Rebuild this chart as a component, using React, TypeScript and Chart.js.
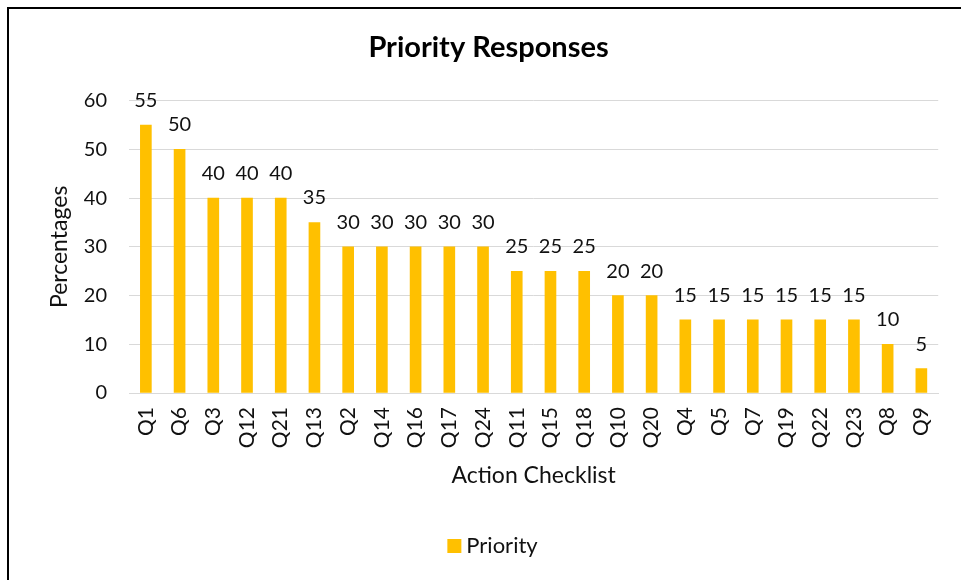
import React, { useEffect, useRef } from "react";
import { Chart, registerables } from "chart.js";

Chart.register(...registerables);

const categories = ["Q1", "Q6", "Q3", "Q12", "Q21", "Q13", "Q2", "Q14", "Q16", "Q17", "Q24", "Q11", "Q15", "Q18", "Q10", "Q20", "Q4", "Q5", "Q7", "Q19", "Q22", "Q23", "Q8", "Q9"];
const priorityValues = [55, 50, 40, 40, 40, 35, 30, 30, 30, 30, 30, 25, 25, 25, 20, 20, 15, 15, 15, 15, 15, 15, 10, 5];
const seriesName = "Priority";
const chartTitle = "Priority Responses";
const yTitle = "Percentages";
const xTitle = "Action Checklist";
const yMin = 0;
const yMax = 60;
const yStep = 10;

const FONT = "Lato, 'Open Sans', sans-serif";
const BAR_COLOR = "#FFC000";
const TEXT_COLOR = "#111111";

const dataLabelPlugin = {
  id: "dataLabels",
  afterDatasetsDraw(chart: any) {
    const ctx = chart.ctx;
    ctx.save();
    ctx.font = `20px ${FONT}`;
    ctx.fillStyle = TEXT_COLOR;
    ctx.textAlign = "center";
    ctx.textBaseline = "alphabetic";
    chart.data.datasets.forEach((ds: any, di: number) => {
      const meta = chart.getDatasetMeta(di);
      meta.data.forEach((el: any, i: number) => {
        ctx.fillText(String(ds.data[i]), el.x, el.y - 18);
      });
    });
    ctx.restore();
  },
};

const customLegendPlugin = {
  id: "customLegend",
  afterDraw(chart: any) {
    const ctx = chart.ctx;
    const ds = chart.data.datasets[0];
    ctx.save();
    ctx.font = `22px ${FONT}`;
    const tw = ctx.measureText(ds.label).width;
    const box = 14;
    const gap = 5;
    const total = box + gap + tw;
    const cy = 546;
    const x0 = chart.width / 2 + 12 - total / 2;
    ctx.fillStyle = ds.backgroundColor;
    ctx.fillRect(x0, cy - box / 2, box, box);
    ctx.fillStyle = TEXT_COLOR;
    ctx.textAlign = "left";
    ctx.textBaseline = "middle";
    ctx.fillText(ds.label, x0 + box + gap, cy);
    ctx.restore();
  },
};

export default function App() {
  const canvasRef = useRef<HTMLCanvasElement | null>(null);

  useEffect(() => {
    if (!canvasRef.current) return;
    const chart = new Chart(canvasRef.current, {
      type: "bar",
      data: {
        labels: categories,
        datasets: [
          {
            label: seriesName,
            data: priorityValues,
            backgroundColor: BAR_COLOR,
            borderWidth: 0,
            barThickness: 11,
          },
        ],
      },
      options: {
        animation: false,
        responsive: false,
        devicePixelRatio: 1,
        layout: { padding: { left: 37, top: 0, right: 21, bottom: 54 } },
        plugins: {
          legend: { display: false },
          tooltip: { enabled: false },
          title: {
            display: true,
            text: chartTitle,
            color: "#000",
            font: { family: FONT, size: 29, weight: "bold" },
            padding: { top: 30.2, bottom: 35.7 },
          },
        },
        scales: {
          x: {
            grid: { display: false, drawTicks: false },
            border: { display: true, color: "#D9D9D9", width: 1 },
            ticks: {
              color: TEXT_COLOR,
              font: { family: FONT, size: 21 },
              minRotation: 90,
              maxRotation: 90,
              autoSkip: false,
              padding: 14,
            },
            title: {
              display: true,
              text: xTitle,
              color: TEXT_COLOR,
              font: { family: FONT, size: 23 },
              padding: { top: 0, bottom: 36.2 },
            },
            afterFit: (scale: any) => {
              scale.height = 133;
            },
          },
          y: {
            min: yMin,
            max: yMax,
            grid: { color: "#D9D9D9", lineWidth: 1, drawTicks: false },
            border: { display: false },
            ticks: {
              stepSize: yStep,
              color: TEXT_COLOR,
              font: { family: FONT, size: 20 },
              padding: 22,
            },
            title: {
              display: true,
              text: yTitle,
              color: TEXT_COLOR,
              font: { family: FONT, size: 23 },
              padding: { top: 9.2, bottom: 0 },
            },
            afterFit: (scale: any) => {
              scale.width = 92;
            },
          },
        },
      },
      plugins: [dataLabelPlugin, customLegendPlugin],
    });
    return () => chart.destroy();
  }, []);

  return (
    <>
      <div style={{ position: "fixed", left: 0, top: 0, width: 961, height: 580, background: "#fff" }}>
        <canvas ref={canvasRef} width={961} height={580} style={{ display: "block", width: 961, height: 580 }} />
      </div>
      <div
        style={{
          position: "fixed",
          left: 7,
          top: 7,
          right: 0,
          bottom: 0,
          borderTop: "2px solid #000",
          borderLeft: "2px solid #000",
          pointerEvents: "none",
        }}
      />
    </>
  );
}
